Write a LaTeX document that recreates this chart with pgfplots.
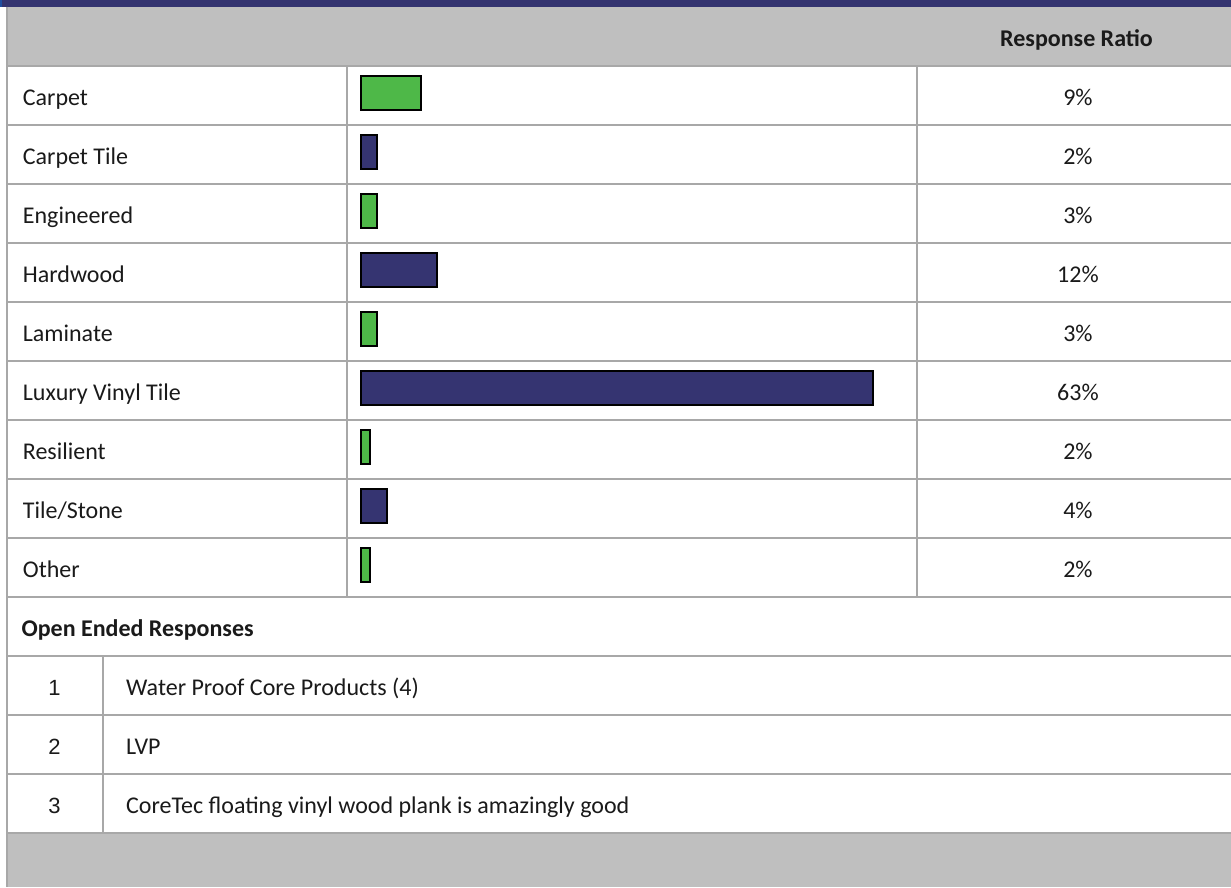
\documentclass[border=0pt]{standalone}
\usepackage{fontspec}
\setmainfont{Carlito}
\newfontfamily\arialfont{Liberation Sans}
\usepackage{pgfplots}
\pgfplotsset{compat=1.18}
\definecolor{navyband}{RGB}{52,52,112}
\definecolor{edgeblue}{RGB}{31,78,160}
\definecolor{bargreen}{RGB}{78,184,72}
\definecolor{barnavy}{RGB}{53,52,113}
\definecolor{hdrgray}{RGB}{191,191,191}
\definecolor{linegray}{RGB}{168,168,168}
\definecolor{txt}{RGB}{26,26,26}
\begin{document}
\begin{tikzpicture}[font=\fontsize{24}{28}\selectfont,text=txt]
\begin{scope}[x=1pt,y=-1pt]
% page background and bands
\fill[white] (0,0) rectangle (1231,887);
\fill[navyband] (0,0) rectangle (1231,6.7);
\fill[edgeblue] (0,0) rectangle (2,6.7);
\fill[hdrgray] (6,6.7) rectangle (1231,66);
\fill[hdrgray] (6,833) rectangle (1231,887);
% grid lines
\begin{scope}[draw=linegray,line width=2pt]
\foreach \y in {125,184,...,774} \draw (6,\y) -- (1231,\y);
\draw (6,66) -- (1231,66);
\draw (6,833) -- (1231,833);
\draw (6.5,6.7) -- (6.5,887);
\draw (346.7,66) -- (346.7,597);
\draw (916.7,66) -- (916.7,597);
\draw (102.7,656) -- (102.7,833);
\end{scope}
% header
\node[anchor=base,font=\fontsize{24}{28}\selectfont\bfseries] at (1076.5,46) {Response Ratio};
% open ended responses
\node[anchor=base west,inner sep=0pt,font=\fontsize{24}{28}\selectfont\bfseries] at (21.4,636) {Open Ended Responses};
\node[anchor=base,font=\arialfont\fontsize{22}{26}\selectfont] at (54.5,695.5) {1};
\node[anchor=base,font=\arialfont\fontsize{22}{26}\selectfont] at (54.5,754.5) {2};
\node[anchor=base,font=\arialfont\fontsize{22}{26}\selectfont] at (54.5,813.5) {3};
\node[anchor=base west,inner sep=0pt] at (126,695.5) {Water Proof Core Products (4)};
\node[anchor=base west,inner sep=0pt] at (126,754.5) {LVP};
\node[anchor=base west,inner sep=0pt] at (126,813.5) {CoreTec floating vinyl wood plank is amazingly good};
\end{scope}
% bar chart
\begin{axis}[
  at={(361.1pt,-66pt)}, anchor=north west,
  scale only axis, width=555.6pt, height=531pt,
  xmin=0, xmax=68.39,
  ymin=-0.458, ymax=8.542, y dir=reverse,
  axis line style={draw=none},
  xtick=\empty,
  ytick={0,1,2,3,4,5,6,7,8},
  yticklabels={Carpet,Carpet Tile,Engineered,Hardwood,Laminate,Luxury Vinyl Tile,Resilient,Tile/Stone,Other},
  major tick length=0pt,
  yticklabel style={anchor=base west,inner sep=0pt,xshift=-338.4pt,yshift=-12pt,font=\fontsize{24}{28}\selectfont,text=txt},
  clip=false,
  xbar, bar shift=0pt, bar width=34.4pt,
]
\addplot[xbar,fill=bargreen,draw=black,line width=1.6pt] coordinates {(7.36,0) (1.94,2) (1.94,4) (1.12,6) (1.12,8)};
\addplot[xbar,fill=barnavy,draw=black,line width=1.6pt] coordinates {(1.94,1) (9.33,3) (63.0,5) (3.18,7)};
\foreach \v/\i in {9/0,2/1,3/2,12/3,3/4,63/5,2/6,4/7,2/8}{
  \edef\temp{\noexpand\node[anchor=base,yshift=-12pt,font=\noexpand\fontsize{24}{28}\noexpand\selectfont,text=txt] at (axis cs:88.24,\i) {\v\noexpand\%};}
  \temp
}
\end{axis}
\pgfresetboundingbox
\path[use as bounding box] (0pt,0pt) rectangle (1231pt,-887pt);
\end{tikzpicture}
\end{document}
